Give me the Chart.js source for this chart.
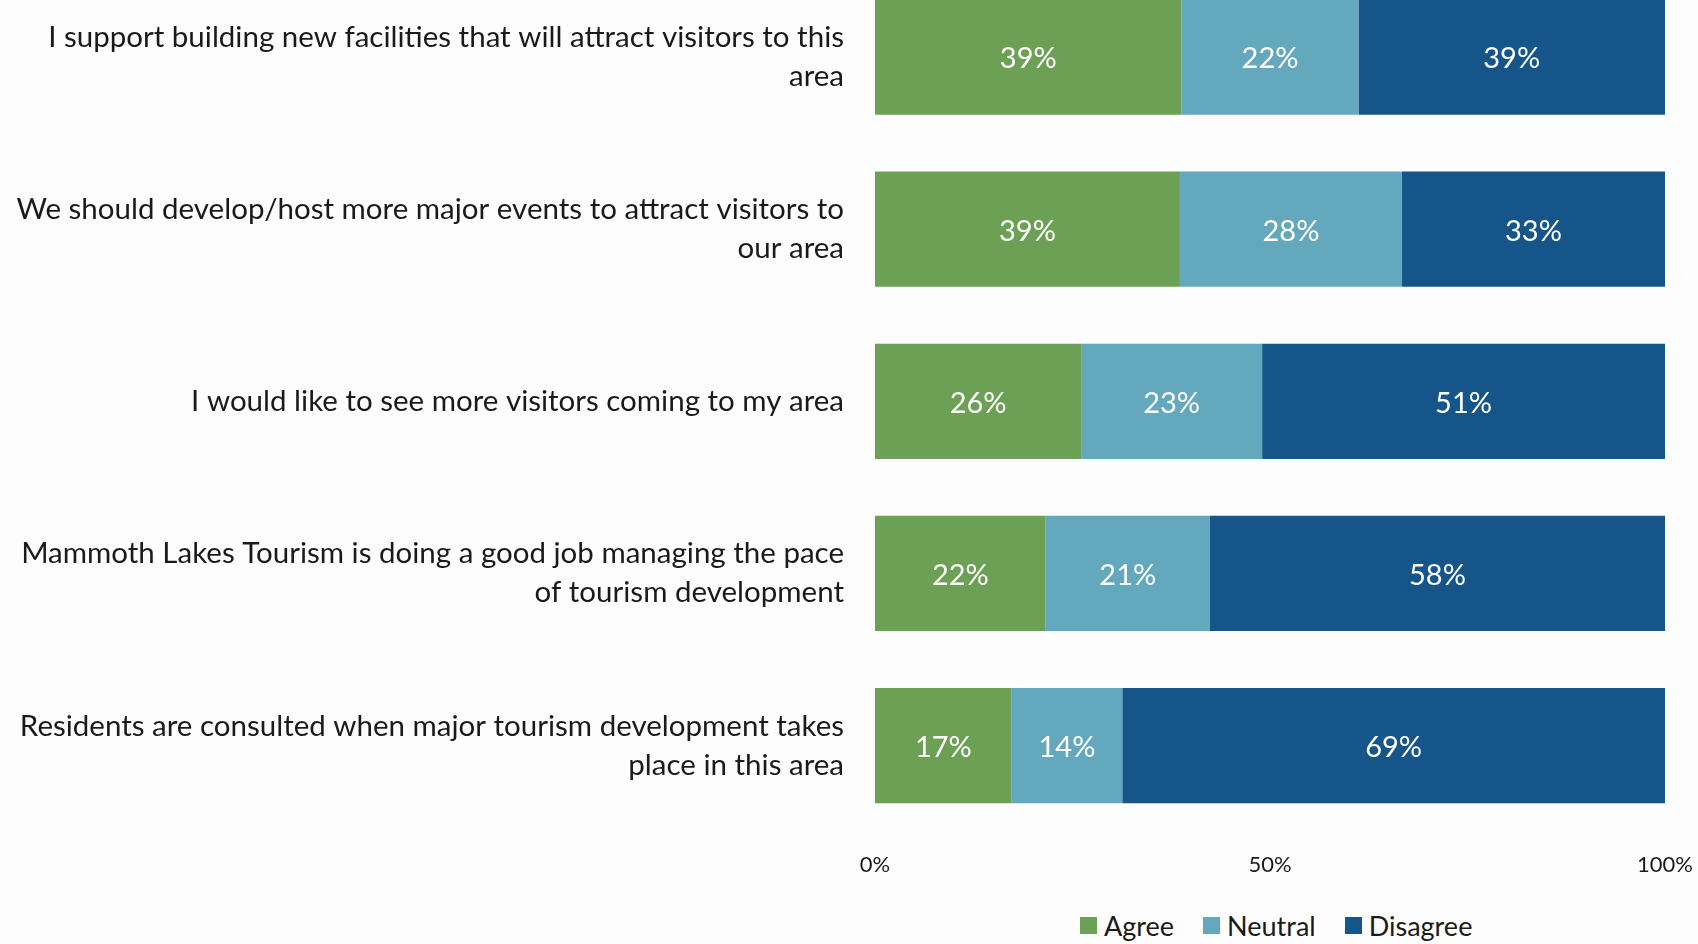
<!DOCTYPE html>
<html>
<head>
<meta charset="utf-8">
<script src="https://cdn.jsdelivr.net/npm/chart.js@4/dist/chart.umd.min.js"></script>
<style>
  html, body { margin: 0; padding: 0; background: #fdfdfd; overflow: hidden; }
  body { width: 1698px; height: 944px; position: relative; font-family: Lato, sans-serif; }
  #wrap { position: absolute; left: 0; top: -29px; width: 1698px; height: 927px; }
  #legend { position: absolute; left: 1080px; top: 909px; display: flex; align-items: center; font-size: 27px; color: #1a1a1a; }
  #legend .item { display: flex; align-items: center; margin-right: 29px; }
  #legend .sw { width: 17px; height: 17px; margin-right: 7px; }
</style>
</head>
<body>
<div id="wrap"><canvas id="chart"></canvas></div>
<div id="legend"></div>
<script>
const categories = [
  ['I support building new facilities that will attract visitors to this', 'area'],
  ['We should develop/host more major events to attract visitors to', 'our area'],
  'I would like to see more visitors coming to my area',
  ['Mammoth Lakes Tourism is doing a good job managing the pace', 'of tourism development'],
  ['Residents are consulted when major tourism development takes', 'place in this area']
];
const agree = [38.8, 38.6, 26.1, 21.6, 17.3];
const neutral = [22.4, 28.1, 22.9, 20.8, 14.0];
const disagree = [38.8, 33.3, 51.0, 57.6, 68.7];
const seriesNames = ['Agree', 'Neutral', 'Disagree'];
const seriesColors = ['#6ca055', '#63a8bc', '#15558a'];
const xTicks = [0, 50, 100];

const fontFamily = "Lato, 'Open Sans', sans-serif";
const textColor = '#1a1a1a';

// percentage text centred in each segment
const segmentLabels = {
  id: 'segmentLabels',
  afterDatasetsDraw(chart) {
    const ctx = chart.ctx;
    ctx.save();
    ctx.fillStyle = '#ffffff';
    ctx.font = `29px ${fontFamily}`;
    ctx.textAlign = 'center';
    ctx.textBaseline = 'middle';
    chart.data.datasets.forEach((ds, i) => {
      chart.getDatasetMeta(i).data.forEach((bar, j) => {
        const p = bar.getCenterPoint();
        ctx.fillText(Math.round(ds.data[j]) + '%', p.x, p.y + 2);
      });
    });
    ctx.restore();
  }
};

new Chart(document.getElementById('chart'), {
  type: 'bar',
  data: {
    labels: categories,
    datasets: [agree, neutral, disagree].map((d, i) => ({
      label: seriesNames[i],
      data: d,
      backgroundColor: seriesColors[i],
      categoryPercentage: 1,
      barPercentage: 0.67,
      borderWidth: 0
    }))
  },
  options: {
    indexAxis: 'y',
    responsive: true,
    maintainAspectRatio: false,
    animation: false,
    layout: { padding: { left: 0, right: 33, top: 0, bottom: 0 } },
    plugins: { legend: { display: false }, tooltip: { enabled: false } },
    scales: {
      x: {
        stacked: true,
        min: 0,
        max: 100,
        grid: { display: false, drawTicks: false },
        border: { display: false },
        afterBuildTicks: (scale) => { scale.ticks = xTicks.map(v => ({ value: v })); },
        afterFit: (scale) => { scale.paddingLeft = 0; scale.paddingRight = 0; },
        ticks: {
          color: textColor,
          padding: 20,
          font: { family: fontFamily, size: 22 },
          callback: (v) => v + '%'
        }
      },
      y: {
        stacked: true,
        grid: { display: false, drawTicks: false },
        border: { display: false },
        afterFit: (scale) => { scale.width = 875; scale.paddingTop = 0; scale.paddingBottom = 0; },
        ticks: {
          color: textColor,
          padding: 31,
          font: { family: fontFamily, size: 29.5, lineHeight: 1.32 }
        }
      }
    }
  },
  plugins: [segmentLabels]
});

document.getElementById('legend').innerHTML = seriesNames.map((n, i) =>
  `<div class="item"><span class="sw" style="background:${seriesColors[i]}"></span>${n}</div>`
).join('');
</script>
</body>
</html>
